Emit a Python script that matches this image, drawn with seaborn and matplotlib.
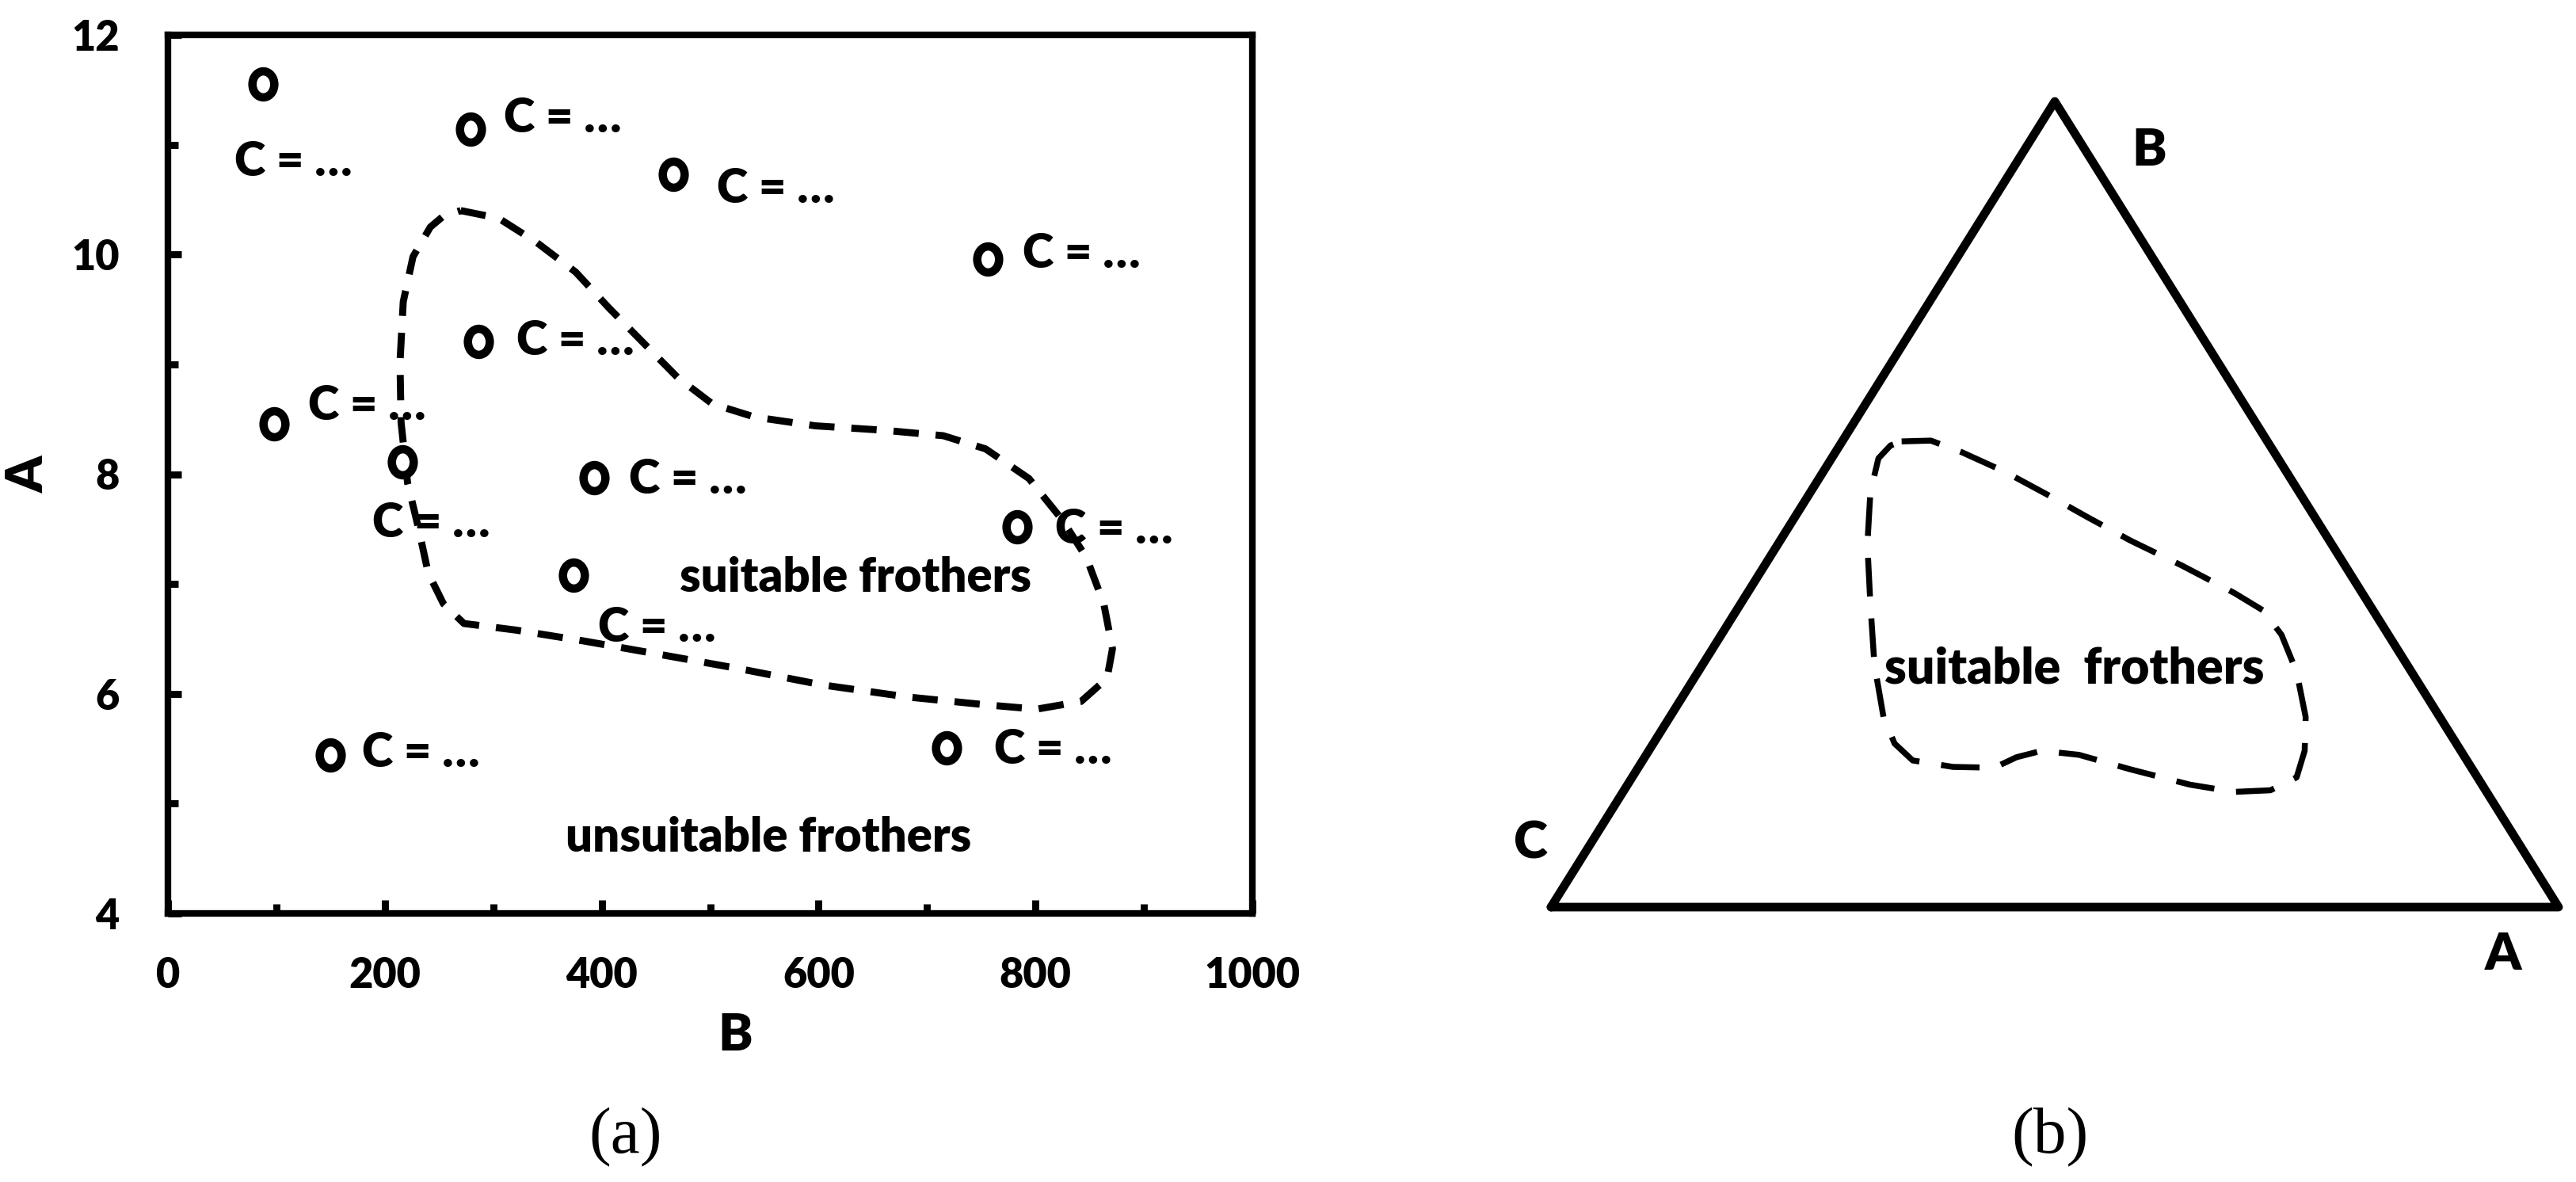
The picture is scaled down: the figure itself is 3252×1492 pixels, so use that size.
import numpy as np
import pandas as pd
import matplotlib
matplotlib.use("Agg")
import matplotlib.pyplot as plt
import seaborn as sns
from matplotlib.path import Path
from matplotlib.markers import MarkerStyle
from matplotlib.transforms import Affine2D
from matplotlib.ticker import MultipleLocator

# ---------------- data ----------------
frother_B = [88, 279, 466, 756, 286, 98, 216, 393, 783, 374, 150, 718]
frother_A = [11.55, 11.14, 10.73, 9.96, 9.21, 8.46, 8.11, 7.97, 7.52, 7.08, 5.44, 5.51]
point_labels = ["C = …"] * 12

# boundary of the "suitable frothers" region in panel (a)  (B, A)
region_a_B = [270, 305, 340, 376, 407, 439, 470, 502, 541, 597, 660, 715, 754, 794,
              825, 847, 863, 871, 866, 842, 801, 754, 683, 604, 526, 447, 384, 321,
              273, 254, 240, 231, 221, 215, 214, 217, 226, 242, 254]
region_a_A = [10.40, 10.33, 10.11, 9.84, 9.51, 9.19, 8.88, 8.64, 8.52, 8.44, 8.40, 8.35,
              8.23, 7.96, 7.58, 7.24, 6.82, 6.41, 6.14, 5.93, 5.86, 5.90, 5.97, 6.08,
              6.23, 6.37, 6.48, 6.58, 6.64, 6.82, 7.10, 7.51, 7.92, 8.47, 9.02, 9.57,
              9.98, 10.25, 10.35]

# ternary diagram (b): vertices and region boundary in triangle frame
triangle_u = [0.0, 1.0, 0.5]
triangle_v = [0.0, 0.0, 1.0]
vertex_names = ["C", "A", "B"]
region_b_u = [0.348, 0.377, 0.407, 0.451, 0.494, 0.531, 0.575, 0.626, 0.678, 0.707,
              0.725, 0.740, 0.749, 0.748, 0.740, 0.714, 0.678, 0.634, 0.575, 0.524,
              0.487, 0.462, 0.440, 0.399, 0.359, 0.341, 0.330, 0.321, 0.317, 0.314,
              0.317, 0.325, 0.337]
region_b_v = [0.578, 0.579, 0.565, 0.540, 0.511, 0.485, 0.455, 0.424, 0.390, 0.368,
              0.338, 0.292, 0.236, 0.194, 0.161, 0.145, 0.143, 0.152, 0.171, 0.189,
              0.194, 0.186, 0.173, 0.174, 0.182, 0.203, 0.236, 0.301, 0.376, 0.450,
              0.515, 0.557, 0.573]

x_ticks = [0, 200, 400, 600, 800, 1000]
y_ticks = [4, 6, 8, 10, 12]

# ---------------- style ----------------
sns.set_theme(style="white")
plt.rcParams["font.family"] = ["Lato", "DejaVu Sans"]
plt.rcParams["font.weight"] = "heavy"
for key in ["text.color", "axes.labelcolor", "xtick.color", "ytick.color",
            "axes.edgecolor"]:
    plt.rcParams[key] = "black"
WEIGHT = "heavy"

W, H, DPI = 3252, 1492, 200
fig = plt.figure(figsize=(W / DPI, H / DPI), dpi=DPI)
fig.patch.set_facecolor("white")

def fx(px):
    return px / W

def fy(py):
    return 1 - py / H

# ---------------- panel (a) ----------------
ax = fig.add_axes([fx(212), fy(1153), fx(1581) - fx(212), fy(44) - fy(1153)])
ax.set_facecolor("white")

df_pts = pd.DataFrame({"B": frother_B, "A": frother_A})
ell = Path.unit_circle().transformed(Affine2D().scale(0.84, 1.0))
sns.scatterplot(data=df_pts, x="B", y="A", ax=ax, marker=MarkerStyle(ell), s=140,
                facecolor="white", edgecolor="black", linewidth=3.8, zorder=4)

loop_a = pd.DataFrame({"B": region_a_B + region_a_B[:1], "A": region_a_A + region_a_A[:1]})
sns.lineplot(data=loop_a, x="B", y="A", sort=False, estimator=None, ax=ax,
             color="black", linewidth=3.2, linestyle=(0, (3.6, 2.4)), zorder=3)

label_offsets = [(-13.3, -41.6), (15.1, -1.3), (19.8, -12.8), (15.8, -4.1),
                 (17.3, -6.3), (15.5, 1.6), (-13.7, -34.0), (15.8, -7.4),
                 (17.3, -7.4), (11.2, -30.1), (14.4, -5.2), (21.6, -7.4)]
for b, a, lab, off in zip(frother_B, frother_A, point_labels, label_offsets):
    ax.annotate(lab, (b, a), xytext=off, textcoords="offset points",
                ha="left", va="baseline", fontsize=21.5, fontweight=WEIGHT,
                color="black", zorder=5)

ax.text(634, 6.93, "suitable frothers", ha="center", va="baseline",
        fontsize=21.5, fontweight=WEIGHT, color="black")
ax.text(554, 4.56, "unsuitable frothers", ha="center", va="baseline",
        fontsize=21.5, fontweight=WEIGHT, color="black")

ax.set_xlim(0, 1000)
ax.set_ylim(4, 12)
ax.set_xticks(x_ticks)
ax.set_yticks(y_ticks)
ax.xaxis.set_minor_locator(MultipleLocator(100))
ax.yaxis.set_minor_locator(MultipleLocator(1))
ax.tick_params(which="both", direction="in", color="black", labelcolor="black",
               width=3.2, bottom=True, left=True, top=False, right=False)
ax.tick_params(which="major", length=6)
ax.tick_params(which="minor", length=4.5)
ax.tick_params(axis="x", which="major", pad=19.5, labelsize=18.8)
ax.tick_params(axis="y", which="major", pad=22, labelsize=18.8)
for lab in ax.get_xticklabels() + ax.get_yticklabels():
    lab.set_fontweight(WEIGHT)
for sp in ax.spines.values():
    sp.set_color("black")
    sp.set_linewidth(3.0)
    sp.set_visible(True)
ax.set_xlabel("B", fontsize=23.5, fontweight=WEIGHT, va="center", color="black")
ax.set_ylabel("A", fontsize=23.5, fontweight=WEIGHT, va="center", color="black")
ax.xaxis.set_label_coords((928 - 212) / 1369, -155 / 1109)
ax.yaxis.set_label_coords((36 - 212) / 1369, 0.5)
ax.grid(False)

# ---------------- panel (b) ----------------
bx = fig.add_axes([fx(1958), fy(1145), fx(3230) - fx(1958), fy(128) - fy(1145)])
bx.set_xlim(0, 1)
bx.set_ylim(0, 1)
bx.axis("off")

tri = pd.DataFrame({"u": triangle_u + triangle_u[:1], "v": triangle_v + triangle_v[:1]})
sns.lineplot(data=tri, x="u", y="v", sort=False, estimator=None, ax=bx, color="black",
             linewidth=3.9, solid_joinstyle="round", solid_capstyle="round",
             clip_on=False)

loop_b = pd.DataFrame({"u": region_b_u + region_b_u[:1], "v": region_b_v + region_b_v[:1]})
sns.lineplot(data=loop_b, x="u", y="v", sort=False, estimator=None, ax=bx,
             color="black", linewidth=2.7, linestyle=(0, (6.5, 3.7)), clip_on=False)

vertex_label_pos = {"C": (-0.0204, 0.0605), "A": (0.945, -0.078), "B": (0.5936, 0.920)}
for name in vertex_names:
    px, py = vertex_label_pos[name]
    bx.text(px, py, name, ha="center", va="baseline", fontsize=23.5,
            fontweight=WEIGHT, color="black")

bx.text(0.5197, 0.2777, "suitable  frothers", ha="center", va="baseline",
        fontsize=22.5, fontweight=WEIGHT, color="black")

# ---------------- captions ----------------
fig.text(fx(790), fy(1436), "(a)", ha="center", va="center", fontsize=30,
         family="Liberation Serif", fontweight="normal", color="black")
fig.text(fx(2588), fy(1436), "(b)", ha="center", va="center", fontsize=30,
         family="Liberation Serif", fontweight="normal", color="black")

fig.savefig("out.png", dpi=DPI, facecolor="white")
